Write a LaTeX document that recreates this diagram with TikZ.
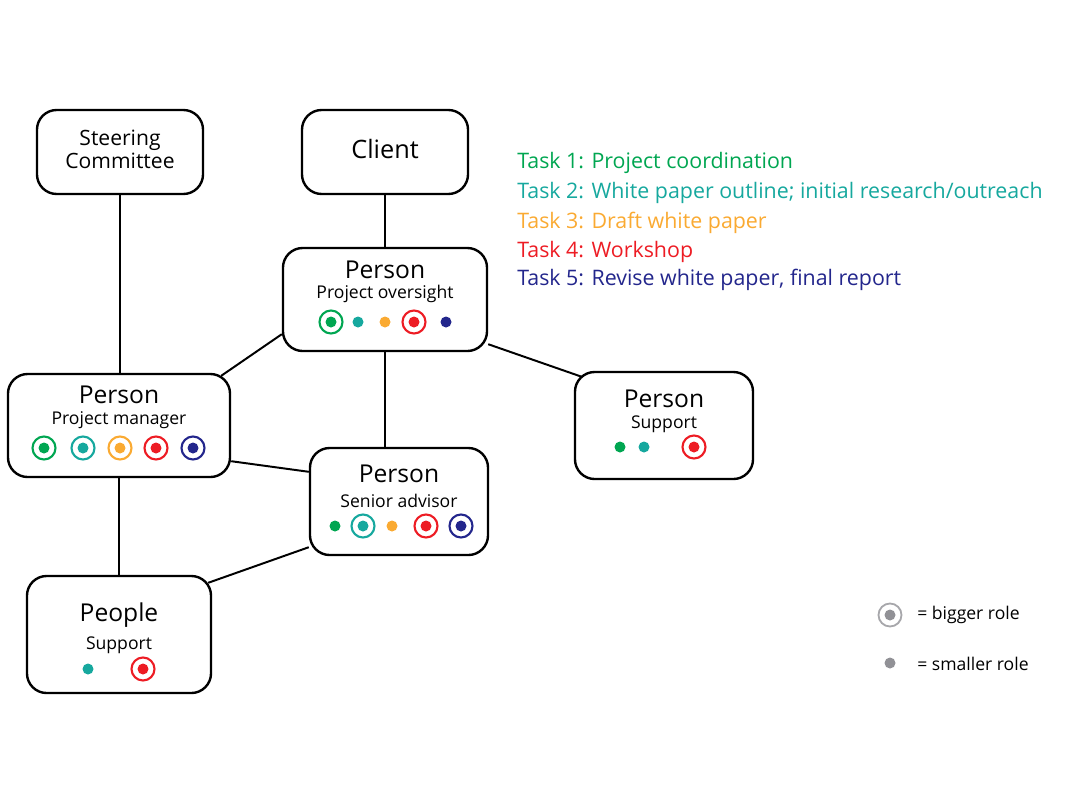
\documentclass[tikz,border=0pt]{standalone}
\usepackage{fontspec}
\setmainfont{Open Sans}
\usetikzlibrary{positioning, calc}
\definecolor{tgreen}{RGB}{0,166,81}
\definecolor{tteal}{RGB}{22,168,158}
\definecolor{torange}{RGB}{250,170,50}
\definecolor{tred}{RGB}{237,28,36}
\definecolor{tnavy}{RGB}{35,38,140}
\definecolor{lgray}{RGB}{145,145,150}
\newcommand{\rolebig}[2]{\draw[#1, line width=1.5pt] (#2) circle (11.5); \fill[#1] (#2) circle (5.5);}
\newcommand{\rolesmall}[2]{\fill[#1] (#2) circle (5.5);}

\begin{document}
\begin{tikzpicture}[x=0.025cm, y=-0.025cm,
    box/.style={draw, line width=1.7pt, rounded corners=14pt, inner sep=0pt},
    title/.style={font=\fontsize{17.5}{20}\selectfont, inner sep=0pt},
    sub/.style={font=\fontsize{12.5}{15}\selectfont, inner sep=0pt},
    task/.style={font=\fontsize{15.2}{17}\selectfont, anchor=west, inner sep=0pt},
    link/.style={line width=1.4pt}]
    \useasboundingbox (0,0) rectangle (1080,810);
    % boxes
    \node[box, minimum width=4.15cm, minimum height=2.1cm] (st) at (120,152) {};
    \node[box, minimum width=4.15cm, minimum height=2.1cm] (cl) at (385,152) {};
    \node[box, minimum width=5.1cm, minimum height=2.575cm] (ov) at (385,299.5) {};
    \node[box, minimum width=5.55cm, minimum height=2.575cm] (pm) at (119,425.5) {};
    \node[box, minimum width=4.45cm, minimum height=2.675cm] (sa) at (399,501.5) {};
    \node[box, minimum width=4.45cm, minimum height=2.675cm] (sup) at (664,425.5) {};
    \node[box, minimum width=4.6cm, minimum height=2.925cm] (pp) at (119,634.5) {};
    % texts
    \node[align=center, font=\fontsize{15}{16.5}\selectfont] (stt) at ($(st)+(0,-3)$) {Steering\\Committee};
    \node[font=\fontsize{18}{20}\selectfont] (clt) at ($(cl)+(0,-3)$) {Client};
    \node[title] (ovt) at ($(ov)+(0,-30)$) {Person};
    \node[sub] (ovs) at ($(ov)+(0,-6)$) {Project oversight};
    \node[title] (pmt) at ($(pm)+(0,-31)$) {Person};
    \node[sub] (pms) at ($(pm)+(0,-5)$) {Project manager};
    \node[title] (sat) at ($(sa)+(0,-27.5)$) {Person};
    \node[sub] (sas) at ($(sa)+(0,-1)$) {Senior advisor};
    \node[title] (supt) at ($(sup)+(0,-27)$) {Person};
    \node[sub] (sups) at ($(sup)+(0,-1)$) {Support};
    \node[title] (ppt) at ($(pp)+(0,-19.5)$) {People};
    \node[sub] (pps) at ($(pp)+(0,11)$) {Support};
    % roles
    \rolebig{tgreen}{$(ov)+(-54,22.5)$}
    \rolesmall{tteal}{$(ov)+(-27,22.5)$}
    \rolesmall{torange}{$(ov)+(0,22.5)$}
    \rolebig{tred}{$(ov)+(29,22.5)$}
    \rolesmall{tnavy}{$(ov)+(61,22.5)$}
    \rolebig{tgreen}{$(pm)+(-75,22.5)$}
    \rolebig{tteal}{$(pm)+(-36,22.5)$}
    \rolebig{torange}{$(pm)+(1,22.5)$}
    \rolebig{tred}{$(pm)+(37,22.5)$}
    \rolebig{tnavy}{$(pm)+(74,22.5)$}
    \rolesmall{tgreen}{$(sa)+(-64,24.5)$}
    \rolebig{tteal}{$(sa)+(-36,24.5)$}
    \rolesmall{torange}{$(sa)+(-7,24.5)$}
    \rolebig{tred}{$(sa)+(27,24.5)$}
    \rolebig{tnavy}{$(sa)+(62,24.5)$}
    \rolesmall{tgreen}{$(sup)+(-44,21.5)$}
    \rolesmall{tteal}{$(sup)+(-20,21.5)$}
    \rolebig{tred}{$(sup)+(30,21.5)$}
    \rolesmall{tteal}{$(pp)+(-31,34.5)$}
    \rolebig{tred}{$(pp)+(24,34.5)$}
    % connectors
    \draw[link] (st.south) -- (st.south |- pm.north);
    \draw[link] (cl.south) -- (ov.north);
    \draw[link] (ov.south) -- (ov.south |- sa.north);
    \draw[link] ($(ov.south west)+(0,-18)$) -- ($(pm.north east)+(-10,3)$);
    \draw[link] ($(ov.south east)+(0,-8)$) -- ($(sup.north west)+(8,6)$);
    \draw[link] ($(pm.south east)+(0,-17)$) -- ($(sa.north west)+(0,25)$);
    \draw[link] (pm.south) -- (pp.north);
    \draw[link] ($(sa.south west)+(0,-9)$) -- ($(pp.north east)+(-4,8)$);
    % tasks
    \node[task, text=tgreen] (t1) at (517,163) {Task 1: Project coordination};
    \node[task, text=tteal] (t2) at (517,193) {Task 2: White paper outline; initial research/outreach};
    \node[task, text=torange] (t3) at (517,223) {Task 3: Draft white paper};
    \node[task, text=tred] (t4) at (517,252) {Task 4: Workshop};
    \node[task, text=tnavy] (t5) at (517,280) {Task 5: Revise white paper, final report};
    % legend
    \draw[lgray!80, line width=1.3pt] (890,615) circle (11.5);
    \fill[lgray] (890,615) circle (5.5);
    \node[sub, anchor=west] (lg1) at (917,615) {= bigger role};
    \fill[lgray] (890,663) circle (5.5);
    \node[sub, anchor=west] (lg2) at (917,664) {= smaller role};
\end{tikzpicture}
\end{document}
